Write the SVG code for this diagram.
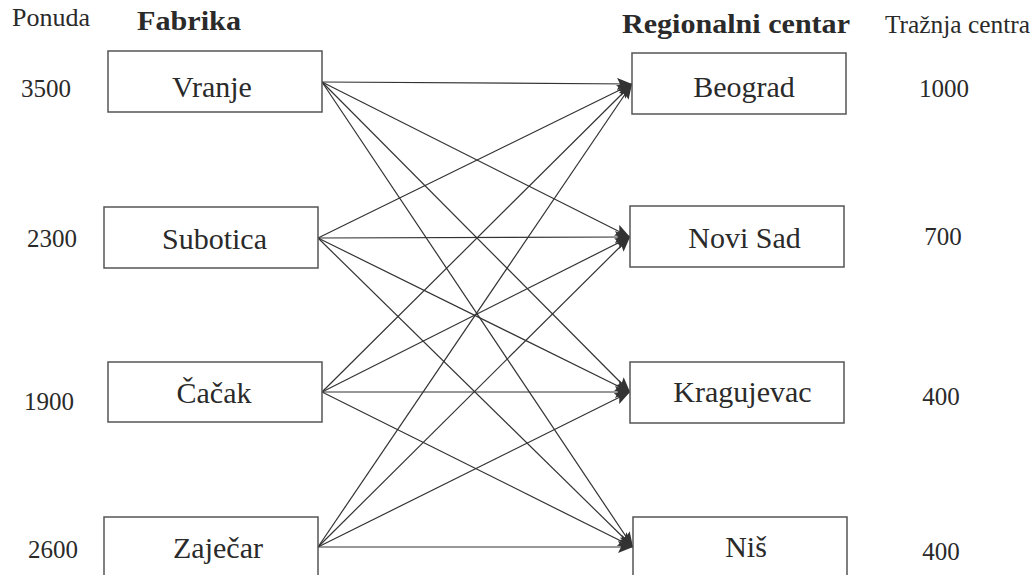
<svg xmlns="http://www.w3.org/2000/svg" width="1035" height="575" viewBox="0 0 1035 575" font-family="'Liberation Serif', 'Times New Roman', serif">
  <style>
    text { font-family: "Liberation Serif", "Times New Roman", serif; fill: #2a2a2a; }
    .lbl { font-family: "Liberation Serif", serif; font-size: 25px; }
    .hdr { font-family: "Liberation Serif", serif; font-size: 28px; font-weight: bold; }
    .node { font-family: "Liberation Serif", serif; font-size: 30px; text-anchor: middle; }
    .num { font-family: "Liberation Serif", serif; font-size: 25px; text-anchor: middle; }
    .box { fill: #ffffff; stroke: #555555; stroke-width: 1.5; }
    .edge { stroke: #333333; stroke-width: 1.2; fill: none; marker-end: url(#arr); }
  </style>
  <defs>
    <marker id="arr" markerUnits="userSpaceOnUse" markerWidth="16" markerHeight="12" refX="15" refY="6" orient="auto">
      <path d="M0,0 L15,6 L0,12 L3,6 z" fill="#333333"/>
    </marker>
  </defs>
  <rect width="1035" height="575" fill="#ffffff"/>

  <g id="headers">
    <text class="lbl" x="12" y="26" textLength="78" lengthAdjust="spacingAndGlyphs">Ponuda</text>
    <text class="hdr" x="137" y="30" textLength="104" lengthAdjust="spacingAndGlyphs">Fabrika</text>
    <text class="hdr" x="622" y="33" textLength="228" lengthAdjust="spacingAndGlyphs">Regionalni centar</text>
    <text class="lbl" x="885" y="33" textLength="145" lengthAdjust="spacingAndGlyphs">Tražnja centra</text>
  </g>

  <g id="connectors">
    <line class="edge" x1="322" y1="82" x2="632" y2="84"/>
    <line class="edge" x1="322" y1="82" x2="630" y2="237"/>
    <line class="edge" x1="322" y1="82" x2="630" y2="392"/>
    <line class="edge" x1="322" y1="82" x2="633" y2="547"/>
    <line class="edge" x1="318" y1="238" x2="632" y2="84"/>
    <line class="edge" x1="318" y1="238" x2="630" y2="237"/>
    <line class="edge" x1="318" y1="238" x2="630" y2="392"/>
    <line class="edge" x1="318" y1="238" x2="633" y2="547"/>
    <line class="edge" x1="322" y1="392" x2="632" y2="84"/>
    <line class="edge" x1="322" y1="392" x2="630" y2="237"/>
    <line class="edge" x1="322" y1="392" x2="630" y2="392"/>
    <line class="edge" x1="322" y1="392" x2="633" y2="547"/>
    <line class="edge" x1="318" y1="547" x2="632" y2="84"/>
    <line class="edge" x1="318" y1="547" x2="630" y2="237"/>
    <line class="edge" x1="318" y1="547" x2="630" y2="392"/>
    <line class="edge" x1="318" y1="547" x2="633" y2="547"/>
  </g>

  <g id="vranje">
    <rect class="box" x="108" y="51" width="214" height="61"/>
    <text class="node" x="212" y="97">Vranje</text>
    <text class="num" x="46" y="97">3500</text>
  </g>
  <g id="subotica">
    <rect class="box" x="104" y="207" width="214" height="61"/>
    <text class="node" x="214.5" y="249">Subotica</text>
    <text class="num" x="52" y="247">2300</text>
  </g>
  <g id="cacak">
    <rect class="box" x="108" y="362" width="214" height="60"/>
    <text class="node" x="214" y="403">Čačak</text>
    <text class="num" x="49" y="410">1900</text>
  </g>
  <g id="zajecar">
    <rect class="box" x="104" y="517" width="214" height="61"/>
    <text class="node" x="218" y="558">Zaječar</text>
    <text class="num" x="53" y="558">2600</text>
  </g>

  <g id="beograd">
    <rect class="box" x="632" y="53" width="214" height="61"/>
    <text class="node" x="744" y="97">Beograd</text>
    <text class="num" x="944" y="97">1000</text>
  </g>
  <g id="novisad">
    <rect class="box" x="630" y="206" width="214" height="61"/>
    <text class="node" x="744.5" y="248">Novi Sad</text>
    <text class="num" x="943" y="245">700</text>
  </g>
  <g id="kragujevac">
    <rect class="box" x="630" y="362" width="214" height="61"/>
    <text class="node" x="742.5" y="402">Kragujevac</text>
    <text class="num" x="941" y="405">400</text>
  </g>
  <g id="nis">
    <rect class="box" x="633" y="517" width="214" height="61"/>
    <text class="node" x="746" y="557">Niš</text>
    <text class="num" x="941" y="560">400</text>
  </g>
</svg>
